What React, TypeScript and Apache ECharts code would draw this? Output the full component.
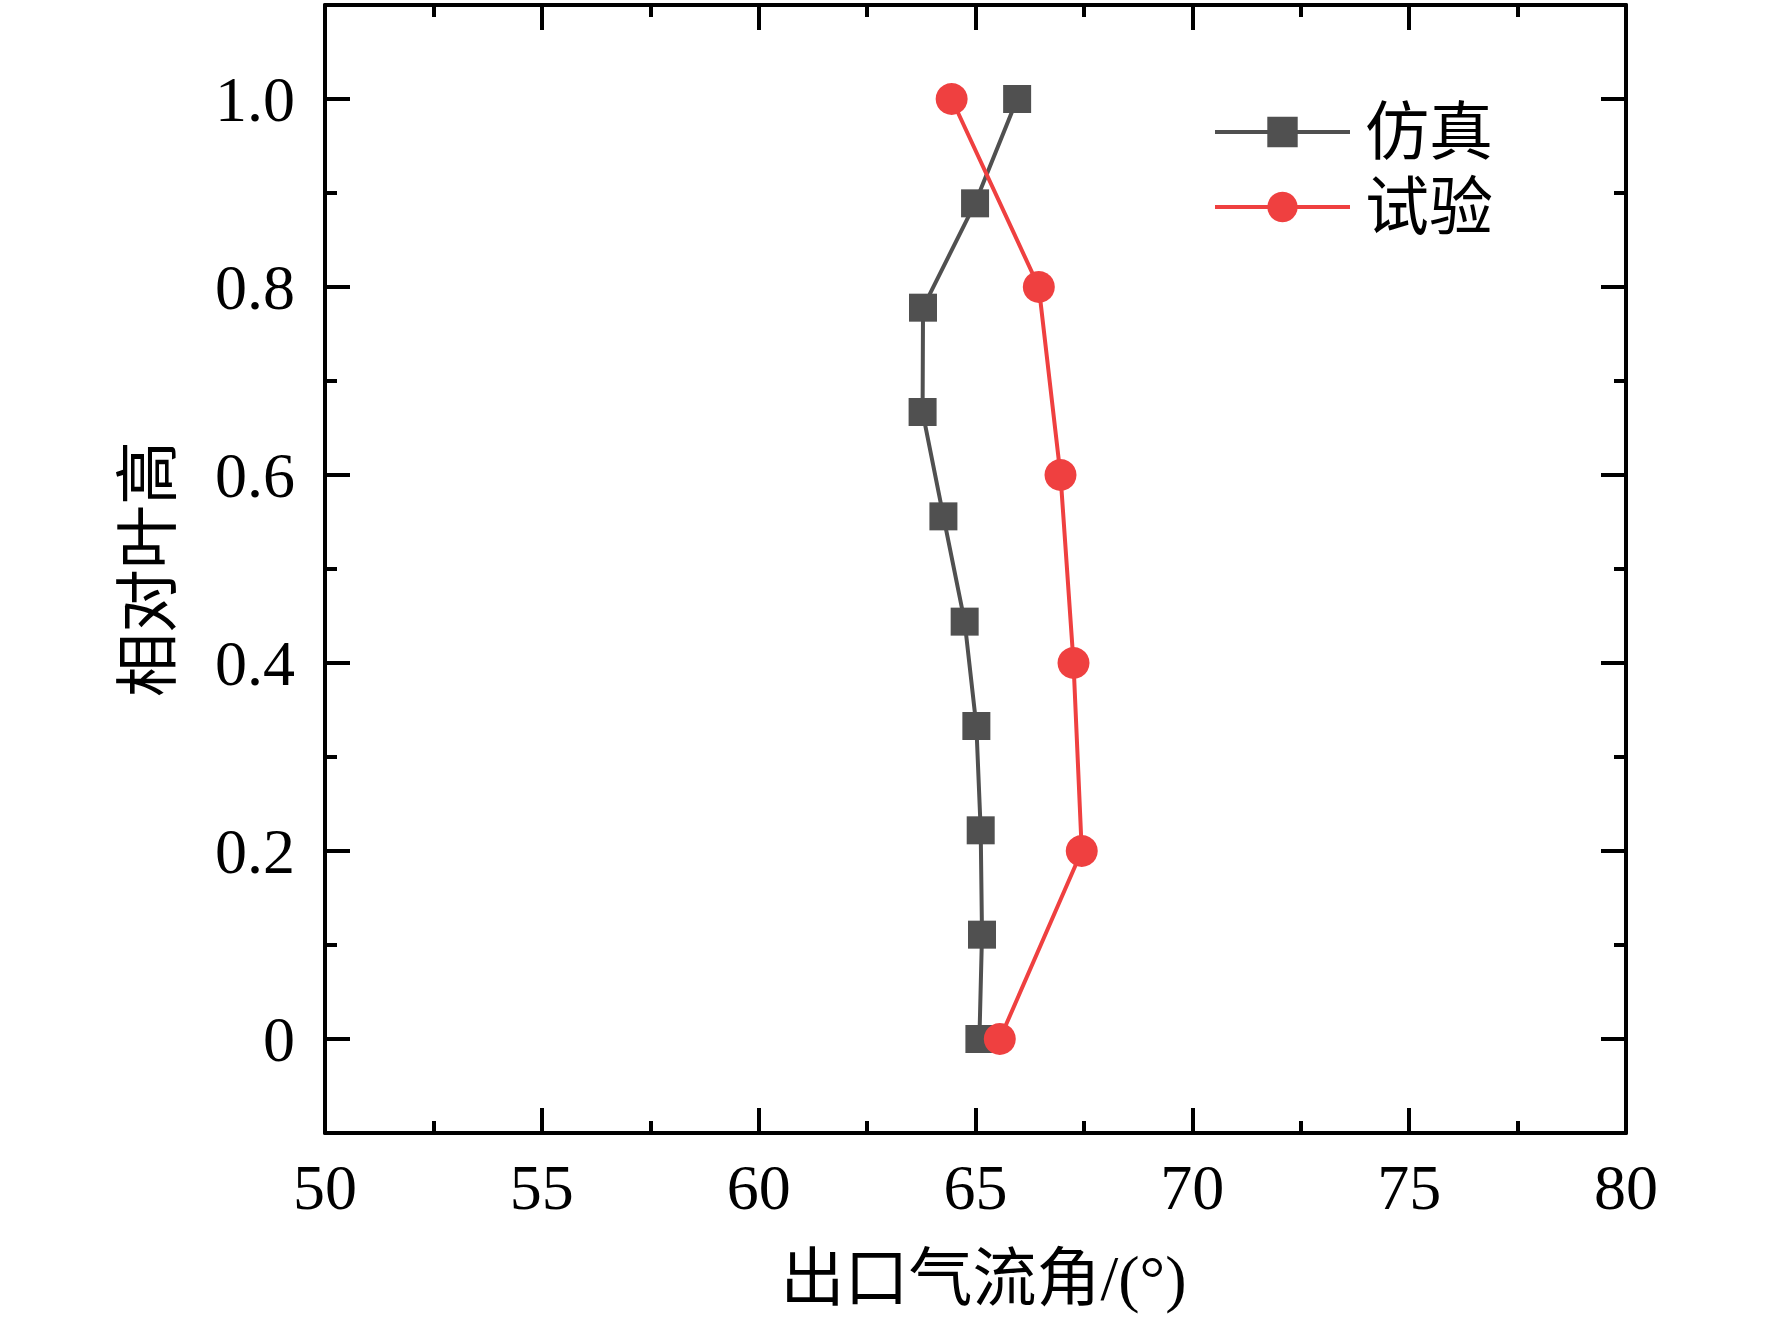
import React, { useEffect, useRef } from "react";
import * as echarts from "echarts";

const simHeights = [0, 0.111, 0.222, 0.333, 0.444, 0.556, 0.667, 0.778, 0.889, 1.0];
const simAngles = [65.09, 65.15, 65.12, 65.02, 64.75, 64.26, 63.78, 63.79, 64.99, 65.96];
const expHeights = [0, 0.2, 0.4, 0.6, 0.8, 1.0];
const expAngles = [65.56, 67.45, 67.26, 66.96, 66.46, 64.45];
const yMajorTicks = [0, 0.2, 0.4, 0.6, 0.8, 1.0];
const yMinorTicks = [0.1, 0.3, 0.5, 0.7, 0.9];
const seriesNames = ["仿真", "试验"];
const xTitle = "出口气流角/(°)";
const yTitle = "相对叶高";

const FONT = "'Liberation Serif', 'Times New Roman', 'Noto Sans CJK SC', serif";

export default function App() {
  const ref = useRef<HTMLDivElement>(null);
  useEffect(() => {
    if (!ref.current) return;
    const chart = echarts.init(ref.current, null, { renderer: "svg" });
    const grid = { left: 325, top: 5, right: 146, bottom: 190 };
    const lineBlack = { show: true, onZero: false, lineStyle: { color: "#000", width: 4 } };
    const majTick = { show: true, inside: true, length: 25, lineStyle: { color: "#000", width: 4 } };
    const minTick = { show: true, length: 12, splitNumber: 2, lineStyle: { color: "#000", width: 4 } };
    chart.setOption({
      animation: false,
      backgroundColor: "#fff",
      textStyle: { fontFamily: FONT },
      grid: [grid, { ...grid }],
      legend: {
        orient: "vertical",
        left: 1208,
        top: 95,
        itemWidth: 135,
        itemHeight: 38,
        itemGap: 11,
        data: seriesNames,
        lineStyle: { width: 4 },
        textStyle: { fontSize: 64, color: "#000", fontFamily: FONT, lineHeight: 64, padding: [0, 0, 0, 10] },
      },
      xAxis: [
        {
          type: "value", gridIndex: 0, position: "bottom", min: 50, max: 80, interval: 5,
          axisLine: lineBlack, axisTick: majTick, minorTick: minTick, splitLine: { show: false },
          axisLabel: { fontSize: 64, color: "#000", margin: 22, fontFamily: FONT },
          name: xTitle, nameLocation: "middle", nameGap: 113,
          nameTextStyle: { fontSize: 64, color: "#000", fontFamily: FONT, padding: [0, 0, 0, 16] },
        },
        {
          type: "value", gridIndex: 0, position: "top", min: 50, max: 80, interval: 5,
          axisLine: lineBlack, axisTick: majTick, minorTick: minTick, splitLine: { show: false },
          axisLabel: { show: false },
        },
        {
          type: "value", gridIndex: 1, min: 50, max: 80, show: false,
        },
      ],
      yAxis: [
        {
          type: "value", gridIndex: 0, position: "left", min: -0.1, max: 1.1,
          axisLine: lineBlack,
          axisTick: { ...majTick, customValues: yMajorTicks },
          splitLine: { show: false },
          axisLabel: {
            customValues: yMajorTicks, fontSize: 64, color: "#000", margin: 30, fontFamily: FONT,
            formatter: (v: number) => (Math.abs(v) < 1e-9 ? "0" : v.toFixed(1)),
          },
          name: yTitle, nameLocation: "middle", nameGap: 145, nameRotate: 90,
          nameTextStyle: { fontSize: 64, color: "#000", fontFamily: FONT },
        },
        {
          type: "value", gridIndex: 0, position: "right", min: -0.1, max: 1.1,
          axisLine: lineBlack,
          axisTick: { ...majTick, customValues: yMajorTicks },
          splitLine: { show: false },
          axisLabel: { show: false },
        },
        {
          type: "value", gridIndex: 1, position: "left", min: -0.1, max: 1.1,
          axisLine: { show: false },
          axisTick: { show: true, inside: true, length: 12, lineStyle: { color: "#000", width: 4 }, customValues: yMinorTicks },
          splitLine: { show: false },
          axisLabel: { show: false },
        },
        {
          type: "value", gridIndex: 1, position: "right", min: -0.1, max: 1.1,
          axisLine: { show: false },
          axisTick: { show: true, inside: true, length: 12, lineStyle: { color: "#000", width: 4 }, customValues: yMinorTicks },
          splitLine: { show: false },
          axisLabel: { show: false },
        },
      ],
      series: [
        {
          name: seriesNames[0],
          type: "line",
          xAxisIndex: 0,
          yAxisIndex: 0,
          data: simAngles.map((a, i) => [a, simHeights[i]]),
          symbol: "rect",
          symbolSize: 28,
          lineStyle: { color: "#505050", width: 4 },
          itemStyle: { color: "#505050" },
          z: 2,
        },
        {
          name: seriesNames[1],
          type: "line",
          xAxisIndex: 0,
          yAxisIndex: 0,
          data: expAngles.map((a, i) => [a, expHeights[i]]),
          symbol: "circle",
          symbolSize: 32,
          lineStyle: { color: "#ef4040", width: 4 },
          itemStyle: { color: "#ef4040" },
          z: 3,
        },
      ],
    });
    return () => chart.dispose();
  }, []);
  return (
    <div
      ref={ref}
      style={{ position: "absolute", left: 0, top: 0, width: 1772, height: 1323, background: "#fff" }}
    />
  );
}
